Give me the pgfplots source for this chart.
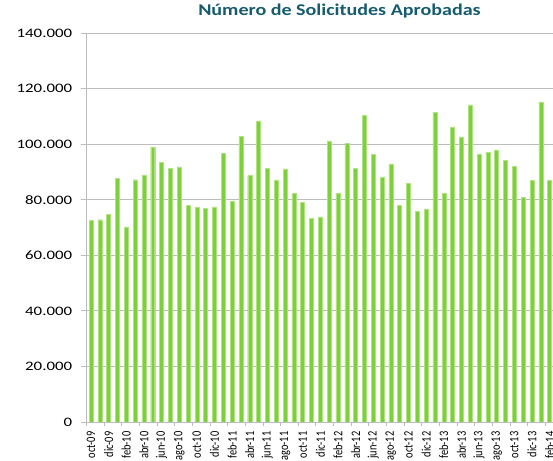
\documentclass[border=0pt]{standalone}
\usepackage{pgfplots}
\pgfplotsset{compat=1.18}
\usepackage{fontspec}
\setmainfont{Carlito}
\definecolor{bargreen}{RGB}{124,208,58}
\definecolor{baredge}{RGB}{176,228,130}
\definecolor{titleteal}{RGB}{22,92,110}
\definecolor{gridgray}{RGB}{188,188,188}

\begin{document}
\begin{tikzpicture}
% picture frame of the reference (553 x 461), plot area starts at (0,0)
\path[use as bounding box] (-86.6bp,-39bp) rectangle (466.4bp,422bp);
\begin{axis}[
    at={(0,0)}, anchor=south west,
    scale only axis,
    width=467.4bp, height=389bp,
    ybar, bar width=4bp,
    xmin=0.5, xmax=53.5,
    ymin=0, ymax=140000,
    scaled y ticks=false,
    axis x line*=bottom, axis y line*=left,
    axis line style={draw=gridgray, line width=0.8pt},
    ytick={0,20000,40000,60000,80000,100000,120000,140000},
    yticklabels={0,20.000,40.000,60.000,80.000,100.000,120.000,140.000},
    xtick={1,3,...,53},
    xticklabels={oct-09,dic-09,feb-10,abr-10,jun-10,ago-10,oct-10,dic-10,
        feb-11,abr-11,jun-11,ago-11,oct-11,dic-11,feb-12,abr-12,jun-12,
        ago-12,oct-12,dic-12,feb-13,abr-13,jun-13,ago-13,oct-13,dic-13,feb-14},
    minor xtick={0.5,2.5,...,52.5},
    tick align=outside,
    x tick style={draw=none},
    minor x tick style={draw=gridgray, line width=0.8pt},
    minor tick length=4bp,
    y tick style={draw=gridgray, line width=0.8pt},
    major tick length=6bp,
    ymajorgrids,
    grid style={draw=gridgray, line width=0.8pt},
    yticklabel style={font=\fontsize{13}{15}\selectfont, xscale=1.3, xshift=-3bp},
    xticklabel style={font=\fontsize{10.4}{12}\selectfont, rotate=90, yscale=1.25, anchor=east},
    title={Número de Solicitudes Aprobadas},
    title style={at={(0.541,1)}, anchor=center, yshift=16bp,
        font=\fontsize{16.5}{19}\selectfont\bfseries, text=titleteal, xscale=1.22},
]
\addplot[fill=bargreen, draw=baredge, line width=0.4pt] coordinates {
    (1,72500)(2,72800)(3,74800)(4,87700)(5,70200)(6,87200)(7,88900)(8,99000)
    (9,93400)(10,91400)(11,91800)(12,77900)(13,77200)(14,76800)(15,77400)
    (16,96800)(17,79300)(18,102700)(19,88700)(20,108400)(21,91300)(22,87100)
    (23,91100)(24,82400)(25,79000)(26,73300)(27,73800)(28,101200)(29,82400)
    (30,100400)(31,91300)(32,110400)(33,96400)(34,88000)(35,92900)(36,78000)
    (37,85800)(38,75700)(39,76700)(40,111500)(41,82400)(42,106200)(43,102600)
    (44,114100)(45,96500)(46,97100)(47,97900)(48,94200)(49,91900)(50,80800)
    (51,86900)(52,115200)(53,87000)};
\end{axis}
\end{tikzpicture}
\end{document}
